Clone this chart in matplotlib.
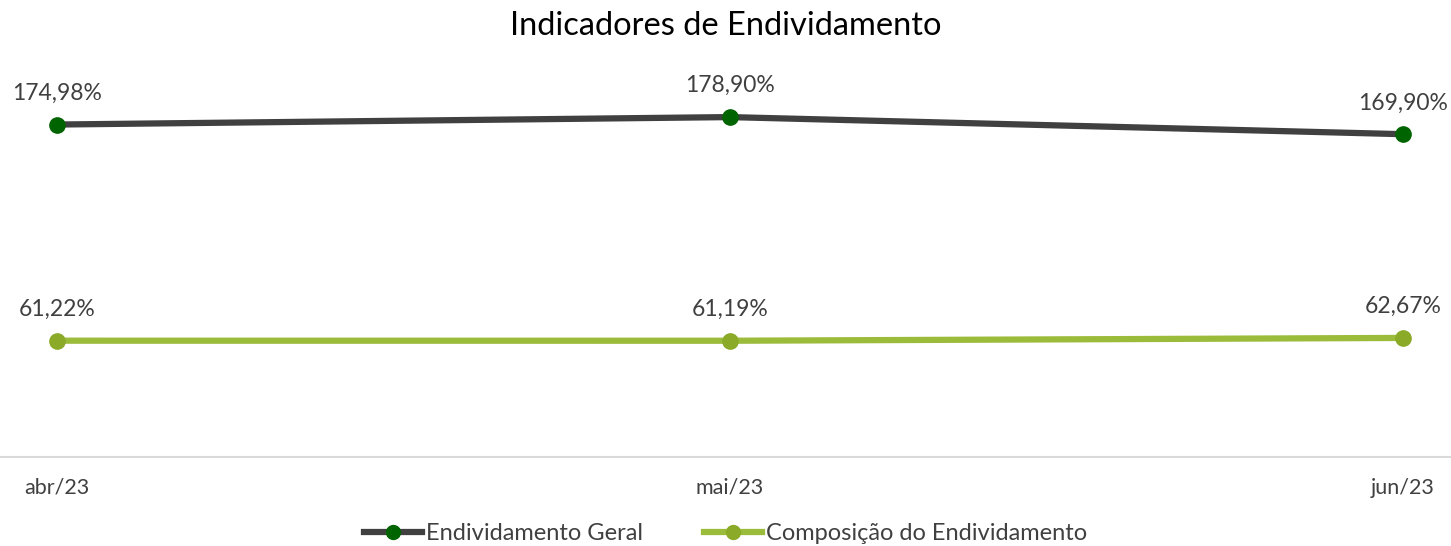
import matplotlib
matplotlib.use('Agg')
import matplotlib.pyplot as plt
from matplotlib.lines import Line2D

MONTHS = ['abr/23', 'mai/23', 'jun/23']
ENDIV_GERAL = [174.98, 178.90, 169.90]
COMPOSICAO = [61.22, 61.19, 62.67]
SERIES_NAMES = ['Endividamento Geral', 'Composição do Endividamento']

plt.rcParams['font.family'] = ['Lato', 'DejaVu Sans']

W, H = 1451, 546
fig = plt.figure(figsize=(W / 100, H / 100), dpi=100)
ax = fig.add_axes([0, (H - 457) / H, 1, (457 - 77) / H])

x = list(range(len(MONTHS)))
step = 673
ax.set_xlim(-57 / step, 2 + 48 / step)
ax.set_ylim(0, 200)

ax.plot(x, ENDIV_GERAL, color='#404040', lw=4.5, marker='o', ms=11,
        mfc='#006400', mec='#006400', solid_capstyle='round')
ax.plot(x, COMPOSICAO, color='#9BBB3B', lw=4.5, marker='o', ms=11,
        mfc='#8AAA28', mec='#8AAA28', solid_capstyle='round')

txt = '#404040'
for series in (ENDIV_GERAL, COMPOSICAO):
    for xi, v in zip(x, series):
        ax.annotate(f'{v:.2f}%'.replace('.', ','), (xi, v), xytext=(0, 15),
                    textcoords='offset points', ha='center', va='bottom',
                    fontsize=16.5, color=txt)

for s in ['top', 'left', 'right']:
    ax.spines[s].set_visible(False)
ax.spines['bottom'].set_color('#D9D9D9')
ax.spines['bottom'].set_linewidth(1.5)
ax.set_yticks([])
ax.set_xticks(x)
ax.set_xticklabels(MONTHS, fontsize=15.5, color=txt)
ax.tick_params(axis='x', length=0, pad=15)

fig.text(0.5, 1 - 26 / H, 'Indicadores de Endividamento', ha='center', va='center',
         fontsize=23.5, color='#000000')

handles = [
    Line2D([], [], color='#404040', lw=4.5, marker='o', ms=10, mfc='#006400', mec='#006400'),
    Line2D([], [], color='#9BBB3B', lw=4.5, marker='o', ms=10, mfc='#8AAA28', mec='#8AAA28'),
]
fig.legend(handles, SERIES_NAMES, loc='center', bbox_to_anchor=(0.5, 1 - 534 / H),
           ncol=2, frameon=False, handlelength=2.45, handletextpad=0.15,
           columnspacing=2.6, prop={'size': 17}, labelcolor=txt)

fig.savefig('out.png', dpi=100)
